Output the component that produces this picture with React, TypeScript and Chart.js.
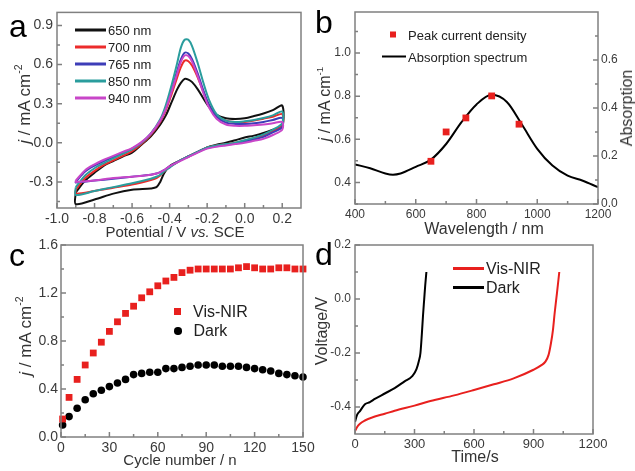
import React, { useEffect, useRef } from "react";
import { Chart, registerables } from "chart.js";
Chart.register(...registerables);

const FONT = '"Liberation Sans", Arial, Helvetica, sans-serif';
const W = 635;
const H = 471;
const FRAME = "#808080";
const TICK_TXT = "#3a3a3a";

// ---------------- Panel a : cyclic voltammograms ----------------
const cvLabels = ["650 nm", "700 nm", "765 nm", "850 nm", "940 nm"];
const cvColors = ["#111111", "#ec2b2b", "#3d3db8", "#2a9d9d", "#c846c8"];
const cvFwdX = [-0.9, -0.85, -0.8, -0.75, -0.7, -0.65, -0.6, -0.55, -0.5, -0.45, -0.42, -0.39, -0.36, -0.34, -0.32, -0.3, -0.28, -0.25, -0.22, -0.19, -0.15, -0.1, -0.05, 0.0, 0.05, 0.1, 0.15, 0.2];
const cv650Fwd = [-0.38, -0.29, -0.23, -0.175, -0.14, -0.105, -0.075, -0.015, 0.05, 0.14, 0.21, 0.31, 0.41, 0.46, 0.49, 0.485, 0.465, 0.41, 0.34, 0.275, 0.215, 0.188, 0.183, 0.188, 0.205, 0.225, 0.25, 0.285];
const cv700Fwd = [-0.36, -0.27, -0.215, -0.17, -0.135, -0.1, -0.065, -0.01, 0.06, 0.16, 0.25, 0.37, 0.5, 0.58, 0.63, 0.625, 0.59, 0.5, 0.39, 0.29, 0.21, 0.17, 0.16, 0.16, 0.17, 0.185, 0.2, 0.22];
const cv765Fwd = [-0.3, -0.22, -0.175, -0.14, -0.11, -0.08, -0.045, 0.0, 0.07, 0.17, 0.27, 0.4, 0.55, 0.64, 0.69, 0.685, 0.64, 0.53, 0.4, 0.29, 0.2, 0.155, 0.145, 0.145, 0.15, 0.16, 0.175, 0.19];
const cv850Fwd = [-0.34, -0.25, -0.195, -0.155, -0.12, -0.085, -0.05, 0.0, 0.07, 0.18, 0.29, 0.44, 0.61, 0.73, 0.79, 0.79, 0.74, 0.61, 0.46, 0.33, 0.22, 0.17, 0.16, 0.165, 0.175, 0.19, 0.21, 0.24];
const cv940Fwd = [-0.29, -0.21, -0.165, -0.13, -0.1, -0.07, -0.04, 0.005, 0.07, 0.17, 0.26, 0.39, 0.53, 0.62, 0.67, 0.665, 0.62, 0.51, 0.38, 0.27, 0.185, 0.14, 0.13, 0.13, 0.135, 0.14, 0.15, 0.16];
const cvRevX = [0.2, 0.15, 0.1, 0.05, 0.0, -0.05, -0.1, -0.15, -0.2, -0.25, -0.3, -0.35, -0.4, -0.43, -0.45, -0.47, -0.5, -0.6, -0.7, -0.8, -0.9];
const cv650Rev = [0.13, 0.1, 0.075, 0.055, 0.04, 0.02, 0.0, -0.015, -0.035, -0.07, -0.105, -0.14, -0.18, -0.235, -0.3, -0.34, -0.35, -0.36, -0.39, -0.435, -0.47];
const cv700Rev = [0.13, 0.09, 0.055, 0.035, 0.015, 0.0, -0.01, -0.02, -0.035, -0.07, -0.105, -0.14, -0.185, -0.22, -0.25, -0.27, -0.285, -0.32, -0.345, -0.37, -0.39];
const cv765Rev = [0.12, 0.08, 0.045, 0.025, 0.01, -0.005, -0.015, -0.025, -0.04, -0.07, -0.105, -0.14, -0.18, -0.21, -0.225, -0.235, -0.245, -0.26, -0.275, -0.29, -0.305];
const cv850Rev = [0.15, 0.1, 0.065, 0.04, 0.02, 0.0, -0.01, -0.02, -0.035, -0.07, -0.105, -0.14, -0.19, -0.22, -0.245, -0.26, -0.275, -0.31, -0.34, -0.37, -0.4];
const cv940Rev = [0.1, 0.06, 0.03, 0.015, 0.0, -0.01, -0.02, -0.03, -0.045, -0.075, -0.11, -0.145, -0.18, -0.21, -0.225, -0.235, -0.245, -0.26, -0.27, -0.29, -0.3];
const aXTicks = [-1.0, -0.8, -0.6, -0.4, -0.2, 0.0, 0.2];
const aXMinor = [-0.9, -0.7, -0.5, -0.3, -0.1, 0.1];
const aYTicks = [-0.3, 0.0, 0.3, 0.6, 0.9];
const aYMinor = [-0.45, -0.15, 0.15, 0.45, 0.75];

// ---------------- Panel b : peak current vs absorption ----------------
const peakNm = [650, 700, 765, 850, 940];
const peakJ = [0.498, 0.634, 0.699, 0.801, 0.67];
const absNm = [400, 450, 500, 525, 550, 600, 650, 700, 750, 800, 850, 900, 950, 1000, 1050, 1100, 1150, 1200];
const absVal = [0.165, 0.149, 0.127, 0.122, 0.127, 0.155, 0.185, 0.25, 0.34, 0.415, 0.455, 0.425, 0.33, 0.23, 0.16, 0.118, 0.097, 0.07];
const bXTicks = [400, 600, 800, 1000, 1200];
const bXMinor = [500, 700, 900, 1100];
const bYTicks = [0.4, 0.6, 0.8, 1.0];
const bYMinor = [0.3, 0.5, 0.7, 0.9, 1.1];
const bY2Ticks = [0.0, 0.2, 0.4, 0.6];
const bY2Minor = [0.1, 0.3, 0.5, 0.7];

// ---------------- Panel c : current vs cycle number ----------------
const cycles = [1, 5, 10, 15, 20, 25, 30, 35, 40, 45, 50, 55, 60, 65, 70, 75, 80, 85, 90, 95, 100, 105, 110, 115, 120, 125, 130, 135, 140, 145, 150];
const visNirJ = [0.15, 0.33, 0.48, 0.6, 0.7, 0.79, 0.88, 0.96, 1.03, 1.09, 1.16, 1.21, 1.26, 1.3, 1.33, 1.37, 1.39, 1.4, 1.4, 1.4, 1.4, 1.4, 1.41, 1.42, 1.41, 1.4, 1.4, 1.41, 1.41, 1.4, 1.4];
const darkJ = [0.1, 0.17, 0.24, 0.31, 0.36, 0.39, 0.42, 0.45, 0.48, 0.52, 0.53, 0.54, 0.54, 0.57, 0.57, 0.58, 0.59, 0.6, 0.6, 0.6, 0.59, 0.59, 0.59, 0.58, 0.57, 0.56, 0.55, 0.53, 0.52, 0.51, 0.5];
const cXTicks = [0, 30, 60, 90, 120, 150];
const cXMinor = [15, 45, 75, 105, 135];
const cYTicks = [0.0, 0.4, 0.8, 1.2, 1.6];
const cYMinor = [0.2, 0.6, 1.0, 1.4];

// ---------------- Panel d : voltage vs time ----------------
const visT = [0, 10, 25, 50, 100, 150, 200, 300, 380, 500, 600, 700, 800, 900, 940, 960, 976, 988, 998, 1007, 1018, 1030];
const visV = [-0.49, -0.475, -0.462, -0.45, -0.435, -0.425, -0.414, -0.395, -0.378, -0.357, -0.337, -0.316, -0.294, -0.262, -0.245, -0.232, -0.207, -0.164, -0.115, -0.05, 0.02, 0.1];
const darkT = [0, 10, 25, 50, 75, 100, 150, 200, 250, 290, 310, 322, 330, 337, 343, 349, 354, 360];
const darkV = [-0.455, -0.43, -0.415, -0.39, -0.382, -0.37, -0.35, -0.33, -0.305, -0.285, -0.26, -0.23, -0.2, -0.13, -0.06, 0.0, 0.05, 0.1];
const dXTicks = [0, 300, 600, 900, 1200];
const dXMinor = [150, 450, 750, 1050];
const dYTicks = [-0.4, -0.2, 0.0, 0.2];
const dYMinor = [-0.3, -0.1, 0.1];

type Area = { l: number; t: number; r: number; b: number };
type Ax = { min: number; max: number; ticks: number[]; minor: number[]; digits: number; size: number; pad: number };

const pts = (xs: number[], ys: number[]) => xs.map((x, i) => ({ x, y: ys[i] }));
const loop = (fwd: number[], rev: number[]) => [...pts(cvFwdX, fwd), ...pts(cvRevX, rev), { x: cvFwdX[0], y: fwd[0] }];

const AXW = 30;
const AXH = 24;

function axis(ax: Ax, position: string, isX: boolean) {
  return {
    type: "linear",
    position,
    min: ax.min,
    max: ax.max,
    grid: { display: false, drawTicks: false },
    border: { display: false },
    afterBuildTicks: (s: any) => {
      s.ticks = ax.ticks.map((v) => ({ value: v }));
    },
    afterFit: (s: any) => {
      if (isX) s.height = AXH;
      else s.width = AXW;
    },
    ticks: {
      autoSkip: false,
      maxRotation: 0,
      padding: ax.pad,
      color: TICK_TXT,
      font: { family: FONT, size: ax.size },
      callback: (v: any) => Number(v).toFixed(ax.digits),
    },
  };
}

function framePlugin(x: Ax, y: Ax, y2?: Ax) {
  return {
    id: "frame",
    afterDatasetsDraw(chart: any) {
      const { ctx, chartArea: a } = chart;
      ctx.save();
      ctx.strokeStyle = FRAME;
      ctx.lineWidth = 1.5;
      ctx.strokeRect(a.left, a.top, a.right - a.left, a.bottom - a.top);
      const mark = (id: string, vals: number[], len: number) => {
        const s = chart.scales[id];
        ctx.beginPath();
        vals.forEach((v) => {
          const p = s.getPixelForValue(v);
          if (id === "x") {
            ctx.moveTo(p, a.bottom);
            ctx.lineTo(p, a.bottom - len);
          } else if (id === "y") {
            ctx.moveTo(a.left, p);
            ctx.lineTo(a.left + len, p);
          } else {
            ctx.moveTo(a.right, p);
            ctx.lineTo(a.right - len, p);
          }
        });
        ctx.stroke();
      };
      mark("x", x.ticks, 5);
      mark("x", x.minor, 3);
      mark("y", y.ticks, 5);
      mark("y", y.minor, 3);
      if (y2) {
        mark("y2", y2.ticks, 5);
        mark("y2", y2.minor, 3);
      }
      ctx.restore();
    },
  };
}

function makeConfig(area: Area, datasets: any[], x: Ax, y: Ax, y2?: Ax) {
  const scales: any = { x: axis(x, "bottom", true), y: axis(y, "left", false) };
  if (y2) scales.y2 = axis(y2, "right", false);
  return {
    type: "scatter",
    data: { datasets },
    options: {
      responsive: false,
      animation: false,
      events: [],
      layout: {
        padding: {
          left: area.l - AXW,
          right: W - area.r - (y2 ? AXW : 0),
          top: area.t,
          bottom: H - area.b - AXH,
        },
      },
      plugins: { legend: { display: false }, tooltip: { enabled: false }, title: { display: false } },
      scales,
    },
    plugins: [framePlugin(x, y, y2)],
  };
}

const line = (data: any[], color: string, extra: any = {}) => ({
  data,
  showLine: true,
  borderColor: color,
  backgroundColor: color,
  borderWidth: 2,
  pointRadius: 0,
  tension: 0.3,
  ...extra,
});

function buildA() {
  const fw = [cv650Fwd, cv700Fwd, cv765Fwd, cv850Fwd, cv940Fwd];
  const rv = [cv650Rev, cv700Rev, cv765Rev, cv850Rev, cv940Rev];
  const ds = fw.map((f, i) => line(loop(f, rv[i]), cvColors[i], { order: 4 - i }));
  return makeConfig(
    { l: 57, t: 12, r: 301, b: 208 },
    ds,
    { min: -1.0, max: 0.3, ticks: aXTicks, minor: aXMinor, digits: 1, size: 14, pad: 3 },
    { min: -0.5, max: 1.0, ticks: aYTicks, minor: aYMinor, digits: 1, size: 14, pad: 4 }
  );
}

function buildB() {
  const ds = [
    {
      data: pts(peakNm, peakJ),
      yAxisID: "y",
      pointStyle: "rect",
      pointRadius: 4.8,
      pointBorderWidth: 0,
      backgroundColor: "#e8201e",
      borderColor: "#e8201e",
      clip: false,
      order: 0,
    },
    line(pts(absNm, absVal), "#000000", { yAxisID: "y2", cubicInterpolationMode: "monotone", order: 1 }),
  ];
  return makeConfig(
    { l: 355, t: 12, r: 598, b: 204 },
    ds,
    { min: 400, max: 1200, ticks: bXTicks, minor: bXMinor, digits: 0, size: 12, pad: 3 },
    { min: 0.3, max: 1.19, ticks: bYTicks, minor: bYMinor, digits: 1, size: 12, pad: 4 },
    { min: 0, max: 0.8, ticks: bY2Ticks, minor: bY2Minor, digits: 1, size: 12, pad: 3 }
  );
}

function buildC() {
  const ds = [
    {
      data: pts(cycles, visNirJ),
      pointStyle: "rect",
      pointRadius: 4.8,
      pointBorderWidth: 0,
      backgroundColor: "#e8201e",
      borderColor: "#e8201e",
      clip: false,
    },
    {
      data: pts(cycles, darkJ),
      pointStyle: "circle",
      pointRadius: 3.8,
      pointBorderWidth: 0,
      backgroundColor: "#000000",
      borderColor: "#000000",
      clip: false,
    },
  ];
  return makeConfig(
    { l: 61, t: 245, r: 303, b: 437 },
    ds,
    { min: 0, max: 150, ticks: cXTicks, minor: cXMinor, digits: 0, size: 14, pad: 3 },
    { min: 0, max: 1.6, ticks: cYTicks, minor: cYMinor, digits: 1, size: 14, pad: 3 }
  );
}

function buildD() {
  const ds = [
    line(pts(visT, visV), "#e8201e", { cubicInterpolationMode: "monotone" }),
    line(pts(darkT, darkV), "#000000", { cubicInterpolationMode: "monotone" }),
  ];
  return makeConfig(
    { l: 355, t: 245, r: 593, b: 434 },
    ds,
    { min: 0, max: 1200, ticks: dXTicks, minor: dXMinor, digits: 0, size: 13, pad: 3 },
    { min: -0.5, max: 0.2, ticks: dYTicks, minor: dYMinor, digits: 1, size: 12, pad: 4 }
  );
}

function Panel({ build }: { build: () => any }) {
  const ref = useRef<HTMLCanvasElement>(null);
  useEffect(() => {
    const chart = new Chart(ref.current as HTMLCanvasElement, build() as any);
    return () => chart.destroy();
  }, []);
  return (
    <canvas
      ref={ref}
      width={W}
      height={H}
      style={{ position: "absolute", left: 0, top: 0, width: W, height: H }}
    />
  );
}

const txt = (size: number, color = "#333"): React.CSSProperties => ({
  position: "absolute",
  fontFamily: FONT,
  fontSize: size,
  color,
  whiteSpace: "nowrap",
  lineHeight: 1,
});

function HTitle({ x, y, size, children }: any) {
  return <div style={{ ...txt(size), left: x, top: y, transform: "translate(-50%,-50%)" }}>{children}</div>;
}
function VTitle({ x, y, size, children }: any) {
  return (
    <div style={{ ...txt(size), left: x, top: y, transform: "translate(-50%,-50%) rotate(-90deg)" }}>{children}</div>
  );
}
const sup: React.CSSProperties = { fontSize: "0.62em", verticalAlign: "0.75em" };

function LineKey({ x, y, color, label, size, len = 31, text = "#222" }: any) {
  return (
    <div style={{ ...txt(size, text), left: x, top: y, transform: "translateY(-50%)", display: "flex", alignItems: "center" }}>
      <span style={{ display: "inline-block", width: len, height: 2.5, background: color, marginRight: 2 }} />
      <span>{label}</span>
    </div>
  );
}
function MarkKey({ x, y, color, label, size, shape, gap, mark }: any) {
  return (
    <div style={{ ...txt(size, "#222"), left: x, top: y, transform: "translateY(-50%)", display: "flex", alignItems: "center" }}>
      <span
        style={{
          display: "inline-block",
          width: mark,
          height: mark,
          background: color,
          borderRadius: shape === "circle" ? "50%" : 0,
          marginRight: gap,
        }}
      />
      <span>{label}</span>
    </div>
  );
}

export default function App() {
  return (
    <div style={{ position: "absolute", left: 0, top: 0, width: W, height: H, background: "#fff", overflow: "hidden" }}>
      <Panel build={buildA} />
      <Panel build={buildB} />
      <Panel build={buildC} />
      <Panel build={buildD} />

      {/* panel letters */}
      <div style={{ ...txt(32, "#000"), left: 9, top: 10 }}>a</div>
      <div style={{ ...txt(32, "#000"), left: 315, top: 6 }}>b</div>
      <div style={{ ...txt(32, "#000"), left: 9, top: 239 }}>c</div>
      <div style={{ ...txt(32, "#000"), left: 315, top: 238 }}>d</div>

      {/* panel a */}
      <VTitle x={23} y={104} size={17}>
        <i>j</i> / mA cm<sup style={sup}>-2</sup>
      </VTitle>
      <HTitle x={175} y={231} size={15}>
        Potential / V <i>vs.</i> SCE
      </HTitle>
      {cvLabels.map((l, i) => (
        <LineKey key={l} x={75} y={30 + i * 17} color={cvColors[i]} label={l} size={13} />
      ))}

      {/* panel b */}
      <VTitle x={324} y={104} size={16}>
        <i>j</i> / mA cm<sup style={sup}>-1</sup>
      </VTitle>
      <VTitle x={627} y={108} size={16}>
        Absorption
      </VTitle>
      <HTitle x={484} y={229} size={16}>
        Wavelength / nm
      </HTitle>
      <MarkKey x={389.5} y={34.5} color="#e8201e" label="Peak current density" size={13} shape="rect" gap={12} mark={6.5} />
      <LineKey x={382} y={56.5} color="#000" label="Absorption spectrum" size={13} len={24} />

      {/* panel c */}
      <VTitle x={24} y={336} size={17}>
        <i>j</i> / mA cm<sup style={sup}>-2</sup>
      </VTitle>
      <HTitle x={180} y={459} size={15}>
        Cycle number / n
      </HTitle>
      <MarkKey x={174} y={311.5} color="#e8201e" label="Vis-NIR" size={16} shape="rect" gap={12} mark={7} />
      <MarkKey x={174} y={331} color="#000" label="Dark" size={16} shape="circle" gap={12} mark={7.5} />

      {/* panel d */}
      <VTitle x={322} y={331} size={16}>
        Voltage/V
      </VTitle>
      <HTitle x={475} y={457} size={16}>
        Time/s
      </HTitle>
      <LineKey x={453} y={268.5} color="#e8201e" label="Vis-NIR" size={16} len={31} />
      <LineKey x={453} y={287.5} color="#000" label="Dark" size={16} len={31} />
    </div>
  );
}
